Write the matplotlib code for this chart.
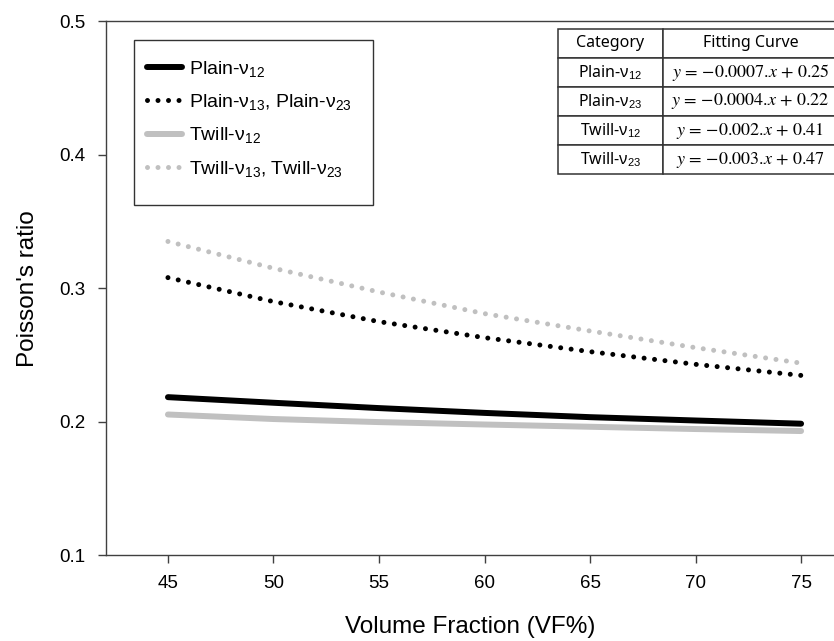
import matplotlib
matplotlib.use("Agg")
import matplotlib.pyplot as plt
from matplotlib.patches import Rectangle

plt.rcParams['font.family'] = ['Liberation Sans', 'DejaVu Sans']
plt.rcParams['mathtext.fontset'] = 'custom'
plt.rcParams['mathtext.rm'] = 'Liberation Sans'
plt.rcParams['mathtext.it'] = 'Liberation Sans:italic'

# data
vf = [45, 50, 55, 60, 65, 70, 75]
plain_v12 = [0.2184, 0.2142, 0.2102, 0.2066, 0.2034, 0.2009, 0.1985]
plain_v13 = [0.3080, 0.2900, 0.2750, 0.2630, 0.2525, 0.2430, 0.2347]
twill_v12 = [0.2054, 0.2020, 0.1997, 0.1979, 0.1962, 0.1945, 0.1930]
twill_v13 = [0.3351, 0.3150, 0.2972, 0.2810, 0.2680, 0.2555, 0.2439]

labels = ["Plain-ν$_{12}$", "Plain-ν$_{13}$, Plain-ν$_{23}$",
          "Twill-ν$_{12}$", "Twill-ν$_{13}$, Twill-ν$_{23}$"]

tab_head = ["Category", "Fitting Curve"]
tab_cat = ["Plain-ν$_{12}$", "Plain-ν$_{23}$", "Twill-ν$_{12}$", "Twill-ν$_{23}$"]
tab_eq = ["$y$ = −0.0007.$x$ + 0.25", "$y$ = −0.0004.$x$ + 0.22",
          "$y$ = −0.002.$x$ + 0.41", "$y$ = −0.003.$x$ + 0.47"]

xticks = [45, 50, 55, 60, 65, 70, 75]
yticks = [0.1, 0.2, 0.3, 0.4, 0.5]

grey = '#c0c0c0'
dots = (0, (0.001, 2.1))

fig = plt.figure(figsize=(8.34, 6.41), dpi=100)
ax = fig.add_axes([0.127, 0.134, 0.873, 0.8325])

ax.plot(vf, plain_v12, color='black', lw=4.3, solid_capstyle='round', label=labels[0])
ax.plot(vf, plain_v13, color='black', lw=3.6, linestyle=dots, dash_capstyle='round', label=labels[1])
ax.plot(vf, twill_v12, color=grey, lw=4.3, solid_capstyle='round', label=labels[2])
ax.plot(vf, twill_v13, color=grey, lw=3.6, linestyle=dots, dash_capstyle='round', label=labels[3])

ax.set_xlim(42.06, 76.56)
ax.set_ylim(0.1, 0.5)
ax.set_xticks(xticks)
ax.set_yticks(yticks)
ax.set_xticklabels([str(v) for v in xticks])
ax.set_yticklabels([f"{v:.1f}" for v in yticks])
ax.tick_params(axis='both', direction='out', length=6, width=1, color='#404040',
               labelsize=13.5, pad=8.5)
ax.spines['right'].set_visible(False)
for s in ['left', 'bottom', 'top']:
    ax.spines[s].set_color('#404040')
    ax.spines[s].set_linewidth(1.0)

ax.set_xlabel("Volume Fraction (VF%)", fontsize=17.5, labelpad=17)
ax.set_ylabel("Poisson's ratio", fontsize=17.5, labelpad=15)

leg = ax.legend(loc='upper left', bbox_to_anchor=(147 / 834, 1 - 59 / 641),
                bbox_transform=fig.transFigure, frameon=False, fontsize=14,
                handlelength=1.8, handletextpad=0.35, labelspacing=0.68,
                borderpad=0, borderaxespad=0)
fig.add_artist(Rectangle((134 / 834, 1 - 205 / 641), 239 / 834, 165 / 641,
                         transform=fig.transFigure, fill=False, ec='#333333', lw=1.0))

cells = [[c, e] for c, e in zip(tab_cat, tab_eq)]
tb = ax.table(cellText=cells, colLabels=tab_head, cellLoc='center',
              colWidths=[105 / 280, 175 / 280],
              bbox=[(558 - 106) / 728, (555 - 174) / 533.5, 280 / 728, 145 / 533.5])
tb.auto_set_font_size(False)
for (r, c), cell in tb.get_celld().items():
    cell.set_edgecolor('#333333')
    cell.set_linewidth(1.1)
    t = cell.get_text()
    t.set_fontsize(11.5)
    t.set_fontfamily(['Noto Sans', 'DejaVu Sans'])
    if r > 0 and c == 1:
        t.set_fontfamily(['STIXGeneral', 'DejaVu Serif'])
        t.set_math_fontfamily('stix')
        t.set_fontsize(13)

fig.savefig("out.png", dpi=100)
